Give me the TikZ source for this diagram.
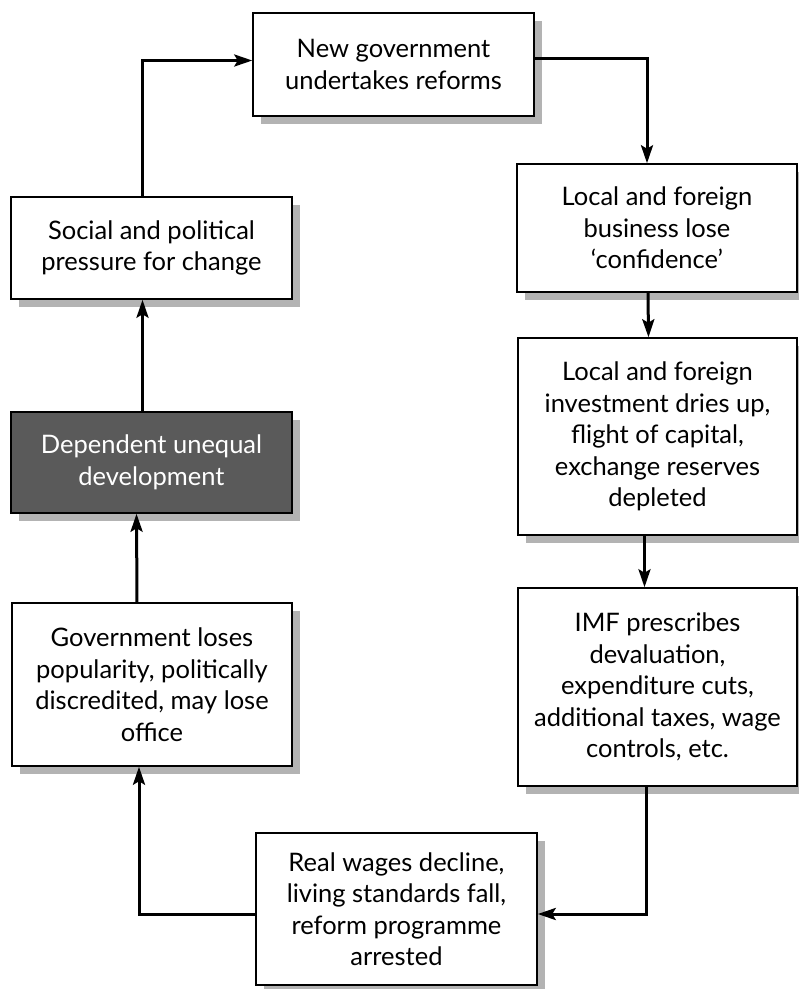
\documentclass[tikz,border=0pt]{standalone}
\usepackage{fontspec}
\setmainfont{Lato}
\usetikzlibrary{arrows.meta,shadows,calc}
\definecolor{shadowgrey}{HTML}{B3B3B3}
\definecolor{darkbox}{HTML}{5A5A5A}
\tikzset{
  box/.style={draw=black, line width=1.5pt, fill=white, align=center, inner sep=0pt,
    font=\fontsize{25.5}{31.5}\selectfont,
    drop shadow={shadow xshift=8pt, shadow yshift=-8pt, fill=shadowgrey, opacity=1}},
  darkboxstyle/.style={box, fill=darkbox, text=white},
  arr/.style={line width=3pt, -{Stealth[length=18pt,width=12pt,inset=3.5pt]}}
}
\begin{document}
\begin{tikzpicture}[x=1pt,y=-1pt]
\useasboundingbox (0,0) rectangle (799,989);
\node[box, minimum width=281pt, minimum height=103pt] (b1) at (393.5,64.5) {New government\\undertakes reforms};
\node[box, minimum width=280pt, minimum height=128pt] (b2) at (657,228) {Local and foreign\\business lose\\‘confidence’};
\node[box, minimum width=279pt, minimum height=197pt] (b3) at (657.5,436.5) {Local and foreign\\investment dries up,\\flight of capital,\\exchange reserves\\depleted};
\node[box, minimum width=279pt, minimum height=198pt] (b4) at (657.5,687) {IMF prescribes\\devaluation,\\expenditure cuts,\\additional taxes, wage\\controls, etc.};
\node[box, minimum width=281pt, minimum height=152pt] (b5) at (396.5,909) {Real wages decline,\\living standards fall,\\reform programme\\arrested};
\node[box, minimum width=280pt, minimum height=163pt] (b6) at (152,684.5) {Government loses\\popularity, politically\\discredited, may lose\\office};
\node[darkboxstyle, minimum width=281pt, minimum height=101pt] (b7) at (151.5,462.5) {Dependent unequal\\development};
\node[box, minimum width=281pt, minimum height=102pt] (b8) at (151.5,248) {Social and political\\pressure for change};

\draw[arr] ($(b8.north)+(-9,0)$) |- ($(b1.west)+(0,-4)$);
\draw[arr] ($(b1.east)+(0,-6)$) -| ($(b2.north)+(-10,0)$);
\draw[arr] ($(b2.south)+(-9,0)$) -- ($(b3.north)+(-9,0)$);
\draw[arr] ($(b3.south)+(-13,0)$) -- ($(b4.north)+(-13,0)$);
\draw[arr] ($(b4.south)+(-11,0)$) |- ($(b5.east)+(0,5)$);
\draw[arr] ($(b5.west)+(0,5)$) -| ($(b6.south)+(-13,0)$);
\draw[arr] ($(b6.north)+(-15,0)$) -- ($(b7.south)+(-15,0)$);
\draw[arr] ($(b7.north)+(-9,0)$) -- ($(b8.south)+(-9,0)$);
\end{tikzpicture}
\end{document}
